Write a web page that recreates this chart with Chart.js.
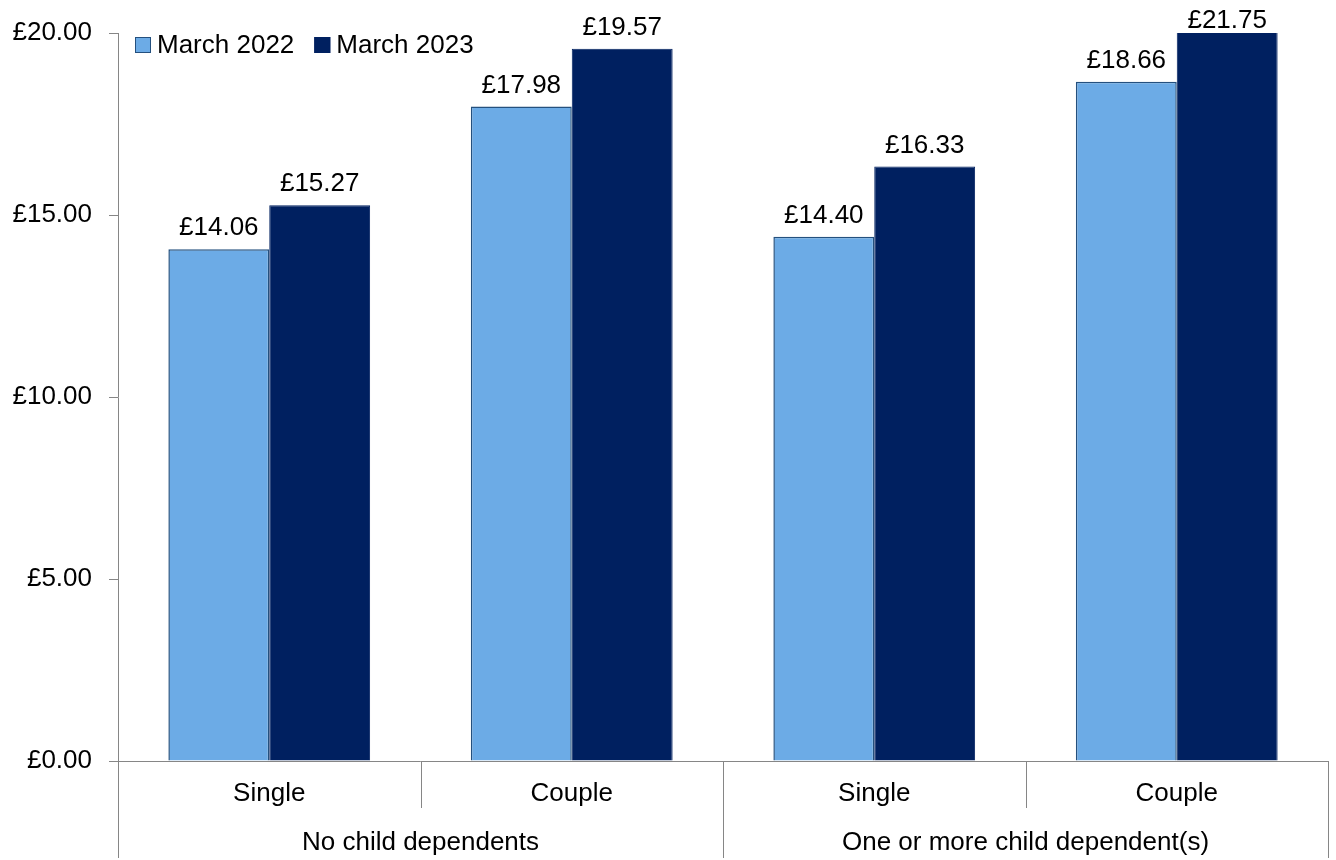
<!DOCTYPE html>
<html>
<head>
<meta charset="utf-8">
<title>Hourly pay</title>
<script src="https://cdn.jsdelivr.net/npm/chart.js@4/dist/chart.umd.min.js"></script>
<style>
  body { margin: 0; background: #fff; }
  #wrap { width: 1336px; height: 860px; }
</style>
</head>
<body>
<div id="wrap"><canvas id="myChart" width="1336" height="860"></canvas></div>
<script>
const categorias = ["Single", "Couple", "Single", "Couple"];
const grupos = ["No child dependents", "One or more child dependent(s)"];
const marzo2022 = [14.06, 17.98, 14.40, 18.66];
const marzo2023 = [15.27, 19.57, 16.33, 21.75];
const ticksY = [0, 5, 10, 15, 20];

const fuente = "'Liberation Sans', Arial, sans-serif";
const gris = "#868686";

// legend drawn inside the plot, top left
const leyenda = {
    id: "leyenda",
    afterDraw(chart) {
        const ctx = chart.ctx;
        const area = chart.chartArea;
        let x = area.left + 17;
        const y = area.top + 4;
        ctx.save();
        ctx.font = `26px ${fuente}`;
        ctx.textBaseline = "middle";
        chart.data.datasets.forEach((ds) => {
            ctx.fillStyle = ds.backgroundColor;
            ctx.fillRect(x, y, 16, 16);
            ctx.strokeStyle = ds.borderColor;
            ctx.lineWidth = 1;
            ctx.strokeRect(x + 0.5, y + 0.5, 15, 15);
            ctx.fillStyle = "#000";
            ctx.fillText(ds.label, x + 22, y + 9);
            x += 22 + ctx.measureText(ds.label).width + 20;
        });
        ctx.restore();
    }
};

// value labels above each bar
const etiquetas = {
    id: "etiquetas",
    afterDatasetsDraw(chart) {
        const ctx = chart.ctx;
        const top = chart.chartArea.top;
        ctx.save();
        ctx.font = `26px ${fuente}`;
        ctx.fillStyle = "#000";
        ctx.textAlign = "center";
        ctx.textBaseline = "alphabetic";
        chart.data.datasets.forEach((ds, i) => {
            chart.getDatasetMeta(i).data.forEach((bar, j) => {
                const y = Math.max(bar.y - 14, top - 5);
                ctx.fillText("£" + ds.data[j].toFixed(2), bar.x, y);
            });
        });
        ctx.restore();
    }
};

// separator lines of the two-level category axis
const separadores = {
    id: "separadores",
    afterDraw(chart) {
        const ctx = chart.ctx;
        const x = chart.scales.x;
        const x2 = chart.scales.x2;
        ctx.save();
        ctx.strokeStyle = gris;
        ctx.lineWidth = 1;
        for (let i = 0; i <= categorias.length; i++) {
            const px = Math.round(x.getPixelForValue(i - 0.5)) + 0.5;
            const fin = (i % 2 === 0) ? x2.bottom : x.bottom;
            ctx.beginPath();
            ctx.moveTo(px, x.top);
            ctx.lineTo(px, fin);
            ctx.stroke();
        }
        ctx.restore();
    }
};

const config = {
    type: "bar",
    data: {
        labels: categorias,
        datasets: [{
            label: "March 2022",
            data: marzo2022,
            backgroundColor: "#6CABE6",
            borderColor: "#24507E",
            borderWidth: 1.5,
            barPercentage: 1,
            categoryPercentage: 0.667
        }, {
            label: "March 2023",
            data: marzo2023,
            backgroundColor: "#002060",
            borderColor: "#002060",
            borderWidth: 1,
            barPercentage: 1,
            categoryPercentage: 0.667
        }]
    },
    options: {
        responsive: false,
        animation: false,
        layout: { padding: { top: 33, right: 8, bottom: 2, left: 0 } },
        plugins: {
            legend: { display: false },
            tooltip: { enabled: false }
        },
        scales: {
            y: {
                min: 0,
                max: 20,
                afterBuildTicks: (s) => { s.ticks = ticksY.map((v) => ({ value: v })); },
                afterFit: (s) => { s.width = 118; },
                ticks: {
                    color: "#000",
                    font: { family: fuente, size: 26 },
                    padding: 17,
                    callback: (v) => "£" + Number(v).toFixed(2)
                },
                grid: { drawOnChartArea: false, tickLength: 9, color: gris },
                border: { color: gris }
            },
            x: {
                position: "bottom",
                afterFit: (s) => { s.height = 47; },
                ticks: {
                    color: "#000",
                    font: { family: fuente, size: 26 },
                    padding: 17,
                    maxRotation: 0
                },
                grid: { display: false, drawTicks: false },
                border: { display: true, color: gris }
            },
            x2: {
                type: "category",
                position: "bottom",
                labels: grupos,
                offset: true,
                afterFit: (s) => { s.height = 50; },
                ticks: {
                    color: "#000",
                    font: { family: fuente, size: 26 },
                    padding: 19,
                    maxRotation: 0
                },
                grid: { display: false, drawTicks: false },
                border: { display: false }
            }
        }
    },
    plugins: [leyenda, etiquetas, separadores]
};

new Chart(document.getElementById("myChart"), config);
</script>
</body>
</html>
